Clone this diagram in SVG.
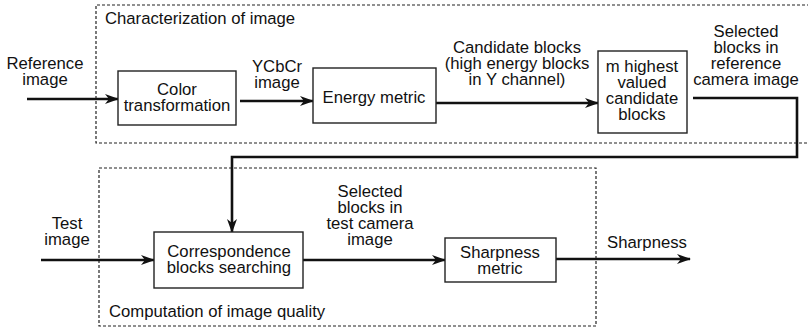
<svg xmlns="http://www.w3.org/2000/svg" width="808" height="330" viewBox="0 0 808 330">
  <style>
    .frame { fill: none; stroke: #222; stroke-width: 1.2; stroke-dasharray: 3 2; }
    .box { fill: #fff; stroke: #222; stroke-width: 1.4; }
    .wire { fill: none; stroke: #111; stroke-width: 2.6; }
    text { font-family: "Liberation Sans", Arial, sans-serif; font-size: 16.7px; fill: #111; }
    .c { text-anchor: middle; }
  </style>
  <defs>
    <marker id="head" viewBox="0 0 14 10" refX="13" refY="5" markerWidth="14" markerHeight="10" markerUnits="userSpaceOnUse" orient="auto">
      <path d="M0,0 L14,5 L0,10 L4,5 Z" fill="#111"/>
    </marker>
  </defs>
  <rect width="808" height="330" fill="#fff"/>

  <!-- dashed stage frames -->
  <g id="stage-characterization">
    <path class="frame" d="M820,5 H96 V143 H820"/>
    <text x="105" y="24">Characterization of image</text>
  </g>
  <g id="stage-computation">
    <rect class="frame" x="99" y="168" width="497" height="158"/>
    <text x="109" y="317">Computation of image quality</text>
  </g>

  <!-- connectors -->
  <g id="connectors">
    <line class="wire" x1="27" y1="99" x2="118" y2="99" marker-end="url(#head)"/>
    <line class="wire" x1="240" y1="101" x2="313" y2="101" marker-end="url(#head)"/>
    <line class="wire" x1="436" y1="103" x2="598" y2="103" marker-end="url(#head)"/>
    <polyline class="wire" points="693,98 797,98 797,157 232,157 232,232" marker-end="url(#head)"/>
    <line class="wire" x1="41" y1="260" x2="154" y2="260" marker-end="url(#head)"/>
    <line class="wire" x1="303" y1="260" x2="445" y2="260" marker-end="url(#head)"/>
    <line class="wire" x1="556" y1="259" x2="690" y2="259" marker-end="url(#head)"/>
  </g>

  <!-- connector labels -->
  <g id="labels">
    <text class="c" x="45" y="69">Reference</text>
    <text class="c" x="45" y="85">image</text>
    <text class="c" x="277" y="72">YCbCr</text>
    <text class="c" x="277" y="88">image</text>
    <text class="c" x="517" y="53">Candidate blocks</text>
    <text class="c" x="517" y="69">(high energy blocks</text>
    <text class="c" x="517" y="85">in Y channel)</text>
    <text class="c" x="746" y="37">Selected</text>
    <text class="c" x="746" y="53">blocks in</text>
    <text class="c" x="746" y="69">reference</text>
    <text class="c" x="746" y="85">camera image</text>
    <text class="c" x="67" y="229">Test</text>
    <text class="c" x="67" y="245">image</text>
    <text class="c" x="370" y="197">Selected</text>
    <text class="c" x="370" y="213">blocks in</text>
    <text class="c" x="370" y="229">test camera</text>
    <text class="c" x="370" y="245">image</text>
    <text class="c" x="647" y="248">Sharpness</text>
  </g>

  <!-- processing blocks -->
  <g id="color-transformation">
    <rect class="box" x="118" y="71" width="118" height="54"/>
    <text class="c" x="177" y="95">Color</text>
    <text class="c" x="177" y="111">transformation</text>
  </g>
  <g id="energy-metric">
    <rect class="box" x="313" y="68" width="123" height="55"/>
    <text class="c" x="374" y="103">Energy metric</text>
  </g>
  <g id="m-highest">
    <rect class="box" x="598" y="51" width="89" height="82"/>
    <text class="c" x="642" y="72">m highest</text>
    <text class="c" x="642" y="88">valued</text>
    <text class="c" x="642" y="104">candidate</text>
    <text class="c" x="642" y="120">blocks</text>
  </g>
  <g id="correspondence">
    <rect class="box" x="154" y="232" width="149" height="56"/>
    <text class="c" x="229" y="257">Correspondence</text>
    <text class="c" x="229" y="273">blocks searching</text>
  </g>
  <g id="sharpness-metric">
    <rect class="box" x="445" y="238" width="111" height="44"/>
    <text class="c" x="500" y="258">Sharpness</text>
    <text class="c" x="500" y="274">metric</text>
  </g>
</svg>
